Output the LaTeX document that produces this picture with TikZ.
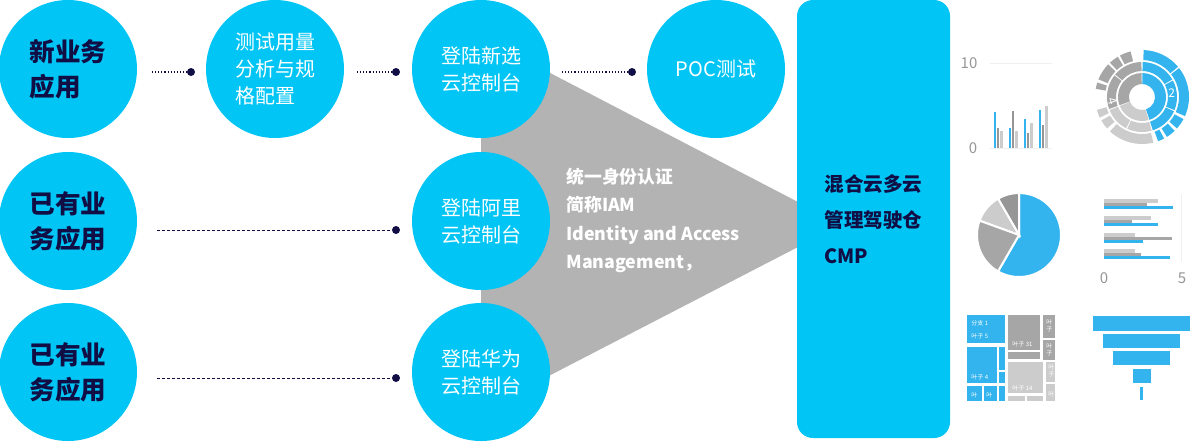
\documentclass[tikz,border=0pt]{standalone}
\usepackage{fontspec}
\usepackage{tikz}
\newfontfamily\cjk{Noto Sans CJK SC}
\definecolor{cyan1}{RGB}{0,197,245}
\definecolor{navy1}{RGB}{16,14,68}
\definecolor{gray1}{RGB}{179,179,179}
\definecolor{chblue}{RGB}{51,180,238}
\definecolor{chgray}{RGB}{166,166,166}
\definecolor{chlight}{RGB}{204,204,204}
\definecolor{chdark}{RGB}{150,150,150}
\definecolor{axisgray}{RGB}{150,150,150}

\begin{document}
\begin{tikzpicture}[x=0.5pt, y=-0.5pt, font=\cjk,
    bubble/.style={circle, fill=cyan1, minimum size=69pt, inner sep=0pt, text=white, align=left, font=\cjk\fontsize{10}{13.5}\selectfont},
    appbubble/.style={bubble, text=navy1, font=\cjk\bfseries\fontsize{12.8}{17.5}\selectfont},
    dotnode/.style={circle, fill=navy1, minimum size=4pt, inner sep=0pt},
    dotlink/.style={navy1, line width=0.55pt, dash pattern=on 0.55pt off 1pt},
    dashlink/.style={navy1, line width=0.5pt, dash pattern=on 1.6pt off 0.9pt},
    panel/.style={rectangle, rounded corners=8pt, fill=cyan1, minimum width=76.5pt, minimum height=219pt, text=navy1, align=left, font=\cjk\bfseries\fontsize{9.8}{18}\selectfont},
    ticklabel/.style={text=axisgray, inner sep=0pt, font=\cjk\fontsize{7.5}{8}\selectfont},
    leaflabel/.style={text=white, inner sep=0pt, anchor=west, align=left, font=\cjk\fontsize{3}{3.4}\selectfont}]
    \useasboundingbox (0,0) rectangle (1198,441);

    % IAM wedge
    \fill[gray1] (481,37) -- (798,202) -- (798,247) -- (481,411) -- cycle;

    % connectors
    \coordinate (s1) at (152,72);
    \coordinate (s2) at (357,72);
    \coordinate (s3) at (562,72);
    \coordinate (s4) at (157,230);
    \coordinate (s5) at (157,378);
    \node[dotnode] (d1) at (191,72) {};
    \node[dotnode] (d2) at (396,72) {};
    \node[dotnode] (d3) at (632,72) {};
    \node[dotnode] (d4) at (396,230) {};
    \node[dotnode] (d5) at (396,378) {};
    \draw[dotlink] (s1) -- (d1);
    \draw[dotlink] (s2) -- (d2);
    \draw[dotlink] (s3) -- (d3);
    \draw[dashlink] (s4) -- (d4);
    \draw[dashlink] (s5) -- (d5);

    \node[appbubble] (newapp) at (68,69) {新业务\\应用};
    \node[bubble] (sizing) at (275,69) {测试用量\\分析与规\\格配置};
    \node[bubble] (newcloud) at (481,69) {登陆新选\\云控制台};
    \node[bubble] (poc) at (716,69) {POC测试};
    \node[appbubble, align=center] (oldapp1) at (68,221) {已有业\\务应用};
    \node[bubble] (aliyun) at (481,221) {登陆阿里\\云控制台};
    \node[appbubble, align=center] (oldapp2) at (68,372) {已有业\\务应用};
    \node[bubble] (huawei) at (481,372) {登陆华为\\云控制台};

    \node[anchor=west, inner sep=0pt, text=white, align=left, font=\cjk\bfseries\fontsize{8.9}{14.25}\selectfont] (iam) at (566,220.5)
        {统一身份认证\\简称IAM\\Identity and Access\\Management，};

    \node[panel] (cmp) at (873.5,219) {混合云多云\\管理驾驶仓\\CMP};

    % column chart
    \draw[gray!12, line width=0.4pt] (990,63) -- (1052,63);
    \draw[gray!12, line width=0.4pt] (990,148) -- (1052,148);
    \node[ticklabel] (ymax) at (969,63) {10};
    \node[ticklabel] (ymin) at (973,148) {0};
    \foreach \x/\b/\d/\l in {994/112/128/131, 1009/128/111/131, 1024/119/133/123, 1039/110/125/106}{
        \fill[chblue] (\x,148) rectangle (\x+2.4,\b);
        \fill[chdark] (\x+3.4,148) rectangle (\x+5,\d);
        \fill[chlight] (\x+6,148) rectangle (\x+8.6,\l);
    }

    % sunburst
    \begin{scope}[shift={(1142,97)}, y=0.5pt]
        \foreach \a/\b/\r/\R/\c in {-72/89/13/24/chblue, 91/200/13/24/chgray, 202/286/13/24/chlight,
            -72/-24/26/35/chblue, -22/28/26/35/chblue, 30/89/26/35/chblue,
            91/140/26/35/chgray, 142/200/26/35/chgray, 202/243/26/35/chlight, 245/286/26/35/chlight,
            -70/-62/37/47/chblue, -58/-46/37/47/chblue, -42/-28/37/47/chblue, -24/38/37/47/chblue, 40/88/37/47/chblue,
            104/118/37/47/chgray, 121/133/37/47/chgray, 136/158/37/47/chgray, 162/170/37/47/chgray,
            196/206/37/47/chlight, 210/222/37/47/chlight, 227/284/37/47/chlight}
            \fill[\c] (\a:\r) arc[start angle=\a, end angle=\b, radius=\r] -- (\b:\R) arc[start angle=\b, end angle=\a, radius=\R] -- cycle;
        \node[text=white, inner sep=0pt, font=\cjk\fontsize{6}{6}\selectfont] (ringa) at (8:30) {2};
        \node[text=white, inner sep=0pt, rotate=-70, font=\cjk\fontsize{6}{6}\selectfont] (ringb) at (188:30) {4};
    \end{scope}

    % pie
    \begin{scope}[shift={(1019,235)}, y=0.5pt]
        \foreach \a/\b/\c in {-120/90/chblue, 90/120/chdark, 120/160/chlight, 160/240/chgray}
            \filldraw[fill=\c, draw=white, line width=1pt] (0,0) -- (\a:42) arc[start angle=\a, end angle=\b, radius=42] -- cycle;
    \end{scope}

    % bar chart
    \draw[gray!12, line width=0.4pt] (1181,194) -- (1181,262);
    \foreach \y/\l/\d/\b in {199/1158/1147/1173, 216/1151/1132/1158, 233/1135/1172/1143, 249/1135/1141/1170}{
        \fill[chlight] (1104,\y) rectangle (\l,\y+4);
        \fill[chgray] (1104,\y+3.5) rectangle (\d,\y+7);
        \fill[chblue] (1104,\y+7) rectangle (\b,\y+10);
    }
    \node[ticklabel] (xmin) at (1104,278) {0};
    \node[ticklabel] (xmax) at (1182,278) {5};

    % treemap
    \foreach \xa/\ya/\xb/\yb/\c in {967/315/1005/343/chblue, 967/347/997/383/chblue, 999/347/1005/370/chblue, 999/372/1005/383/chblue,
        967/386/982/401/chblue, 984/386/997/401/chblue, 999/386/1005/401/chblue,
        1008/315/1040/350/chgray, 1008/352/1040/359/chgray, 1043/315/1055/338/chgray, 1043/340/1055/360/chgray,
        1008/362/1043/393/chlight, 1008/396/1025/401/chlight, 1027/396/1043/401/chlight, 1046/362/1055/382/chlight, 1046/384/1055/401/chlight}
        \fill[\c] (\xa,\ya) rectangle (\xb,\yb);
    \node[leaflabel] (leafa) at (971,323) {分支 1};
    \node[leaflabel] (leafb) at (971,336) {叶子 5};
    \node[leaflabel] (leafc) at (971,377) {叶子 4};
    \node[leaflabel] (leafd) at (971,395) {叶};
    \node[leaflabel] (leafe) at (986,395) {叶};
    \node[leaflabel] (leaff) at (1012,344) {叶子 31};
    \node[leaflabel] (leafg) at (1012,388) {叶子 14};
    \node[leaflabel] (leafh) at (1046,326) {叶\\子};
    \node[leaflabel] (leafi) at (1046,350) {叶\\子};
    \node[leaflabel] (leafj) at (1048,371) {叶\\子};
    \node[leaflabel] (leafk) at (1048,394) {叶};

    % funnel
    \foreach \xa/\ya/\xb/\yb in {1093/316/1190/331, 1103/334/1180/348, 1113/351/1170/365, 1133/369/1151/383, 1140/387/1143/400}
        \fill[chblue] (\xa,\ya) rectangle (\xb,\yb);
\end{tikzpicture}
\end{document}
